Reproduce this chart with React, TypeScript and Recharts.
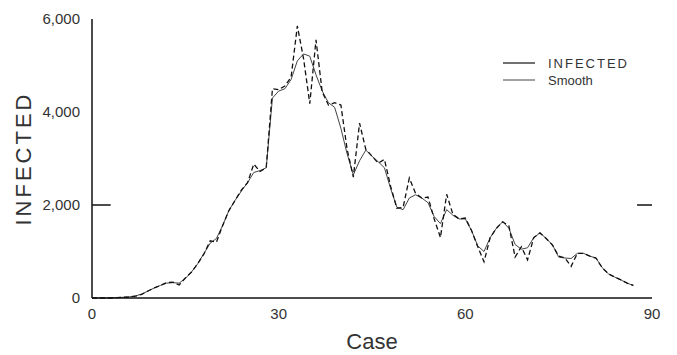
import React from 'react';
import { LineChart, Line, XAxis, YAxis, ReferenceLine } from 'recharts';

// case number 0..87
const cases: number[] = Array.from({ length: 88 }, (_, i) => i);

// raw counts
const infected: number[] = [
  0, 0, 0, 0, 10, 15, 20, 40, 80, 150,
  220, 270, 330, 340, 280, 430, 560, 740, 950, 1230,
  1200, 1560, 1880, 2100, 2320, 2480, 2880, 2720, 2800, 4500,
  4480, 4560, 4750, 5850, 5150, 4180, 5550, 4430, 4150, 4200,
  4150, 3200, 2600, 3760, 3200, 3050, 2900, 2980, 2400, 1930,
  1950, 2580, 2250, 2150, 2170, 1700, 1300, 2230, 1800, 1700,
  1720, 1450, 1100, 780, 1300, 1500, 1640, 1550, 880, 1100,
  820, 1300, 1400, 1280, 1140, 900, 860, 680, 960, 960,
  900, 860, 650, 520, 450, 390, 320, 270,
];

// smoothed series (thin solid line)
const smooth: number[] = [
  0, 0, 0, 0, 10, 15, 25, 45, 85, 150,
  215, 270, 320, 330, 320, 420, 560, 740, 960, 1180,
  1280, 1560, 1880, 2100, 2300, 2480, 2700, 2740, 2800, 4300,
  4450, 4500, 4700, 5100, 5250, 5200, 4800, 4450, 4200, 4100,
  3650, 3100, 2650, 2950, 3180, 3050, 2930, 2800, 2350, 1950,
  1900, 2150, 2220, 2150, 2050, 1750, 1600, 1900, 1780, 1700,
  1700, 1450, 1120, 1000, 1300, 1500, 1640, 1500, 1150, 1050,
  1080, 1300, 1400, 1280, 1140, 880, 860, 850, 960, 960,
  900, 860, 650, 520, 450, 390, 320, 270,
];

const xTicks = [0, 30, 60, 90];
const yTicks = [0, 2000, 4000, 6000];

const data = cases.map((c, i) => ({ case: c, INFECTED: infected[i], Smooth: smooth[i] }));

const font = '"Liberation Sans", Arial, sans-serif';

const LegendBox = () => (
  <svg width={677} height={355} style={{ position: 'absolute', left: 0, top: 0, pointerEvents: 'none' }}>
    <line x1={503} y1={63} x2={535} y2={63} stroke="#111" strokeWidth={1.2} />
    <line x1={503} y1={80} x2={535} y2={80} stroke="#444" strokeWidth={1} />
    <text x={548} y={68} fontFamily={font} fontSize={13} letterSpacing={2} fill="#333">INFECTED</text>
    <text x={548} y={85} fontFamily={font} fontSize={13} fill="#333">Smooth</text>
  </svg>
);

export default function App() {
  return (
    <div style={{ position: 'absolute', left: 0, top: 0, width: 677, height: 355, background: '#fff' }}>
      <LineChart width={677} height={355} data={data} margin={{ top: 19, right: 25, bottom: 0, left: 0 }}>
        <XAxis
          dataKey="case"
          type="number"
          domain={[0, 90]}
          ticks={xTicks}
          tickLine={false}
          axisLine={{ stroke: '#111', strokeWidth: 1.5 }}
          tick={{ fill: '#333', fontSize: 15, fontFamily: font }}
          tickMargin={4}
          height={57}
          label={{ value: 'Case', position: 'insideBottom', offset: 6, fill: '#333', fontSize: 22, fontFamily: font }}
        />
        <YAxis
          type="number"
          domain={[0, 6000]}
          ticks={yTicks}
          tickLine={false}
          axisLine={{ stroke: '#111', strokeWidth: 1.5 }}
          tick={{ fill: '#333', fontSize: 15, fontFamily: font }}
          tickFormatter={(v: number) => v.toLocaleString('en-US')}
          tickMargin={6}
          width={92}
          label={{ value: 'INFECTED', angle: -90, position: 'insideLeft', offset: 23, fill: '#333', fontSize: 22, fontFamily: font, style: { textAnchor: 'middle', letterSpacing: 3 } }}
        />
        <ReferenceLine segment={[{ x: 0, y: 2000 }, { x: 3, y: 2000 }]} stroke="#111" strokeWidth={1.5} />
        <ReferenceLine segment={[{ x: 87.6, y: 2000 }, { x: 90, y: 2000 }]} stroke="#111" strokeWidth={1.5} />
        <Line type="linear" dataKey="Smooth" stroke="#444" strokeWidth={1} dot={false} isAnimationActive={false} />
        <Line type="linear" dataKey="INFECTED" stroke="#111" strokeWidth={1.3} strokeDasharray="5 3" dot={false} isAnimationActive={false} />
      </LineChart>
      <LegendBox />
    </div>
  );
}
